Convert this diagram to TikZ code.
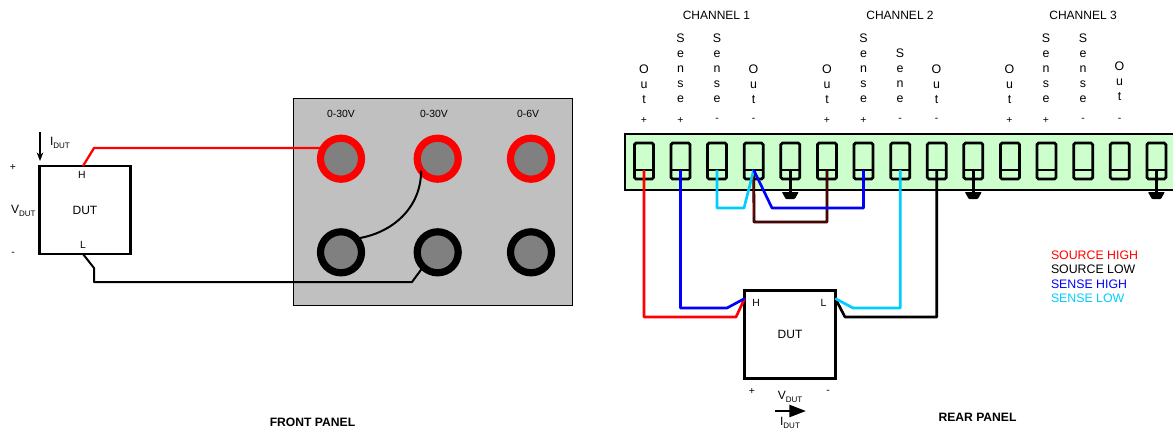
\documentclass[tikz,border=0pt]{standalone}
\usepackage{fontspec}
\setmainfont{Liberation Sans}
\usepackage{xcolor}
\usetikzlibrary{arrows.meta,calc,positioning}
\definecolor{panelgray}{HTML}{C0C0C0}
\definecolor{postgray}{HTML}{808080}
\definecolor{stripgreen}{HTML}{CCFFCC}
\definecolor{senselow}{HTML}{00CCFF}
\definecolor{linkbrown}{HTML}{800000}
\newcommand{\subdut}{\raisebox{-2.4pt}{\fontsize{6}{6}\selectfont DUT}}

\begin{document}
\begin{tikzpicture}[x=0.75pt,y=-0.75pt]
        \tikzstyle{every node}+=[inner sep=0pt,outer sep=0pt,font=\fontsize{9}{11.25}\selectfont]
        \tikzstyle{dutbox}=[draw=black,line width=2.1pt,minimum width=68pt,minimum height=66pt]
        \tikzstyle{hipost}=[circle,draw=red,fill=postgray,line width=5.4pt,minimum size=30.75pt]
        \tikzstyle{lopost}=[circle,draw=black,fill=postgray,line width=5.4pt,minimum size=30.75pt]
        \tikzstyle{termbox}=[draw=black,line width=2pt,rounded corners=1.2pt,minimum width=14.25pt,minimum height=27pt,
                path picture={\draw [line width=1.5pt] ([yshift=-6.75pt]path picture bounding box.west) -- ([yshift=-6.75pt]path picture bounding box.east);}]
        \tikzstyle{stack}=[align=center,anchor=south,font=\fontsize{9.3}{11.25}\selectfont]
        \tikzstyle{small}=[font=\fontsize{7.8}{9}\selectfont]
        \tikzstyle{legend}=[anchor=west,font=\fontsize{9.25}{11}\selectfont]
        \tikzstyle{title}=[font=\fontsize{9.1}{10}\bfseries\selectfont]
        \tikzstyle{wire}=[line width=2pt,line join=round]
        \tikzstyle{gndfill}=[fill=black,rounded corners=0.6pt]
        \useasboundingbox (0,0) rectangle (1173,430);
        \node [small] (plus1) at (13,167) {+};
        \node [small] (minus1) at (13,254) {-};
        \node (vdut1) at (23.3,211) {V\subdut};
        \node (idut1) at (60,143) {I\subdut};
        \node [dutbox] (dut1) at (85,210) {DUT};
        \node [small] (h1) at (82,174.5) {H};
        \node [small] (l1) at (83,245) {L};
        \coordinate (itop1) at (40,132);
        \coordinate (ibot1) at (40,161);
        \draw [black,line width=0.8pt,-{Stealth[length=6.5pt,width=5pt]}] (itop1) -- (ibot1);
        \draw [black,line width=0.7pt,fill=panelgray] (293.5,98.5) rectangle (572,305);
        \node [small] (r1) at (341,114) {0-30V};
        \node [small] (r2) at (434,114) {0-30V};
        \node [small] (r3) at (528,114) {0-6V};
        \node [hipost] (hi1) at (341,158.7) {};
        \node [hipost] (hi2) at (437.7,158.7) {};
        \node [hipost] (hi3) at (531,158.7) {};
        \node [lopost] (lo1) at (341,252.3) {};
        \node [lopost] (lo2) at (437.7,252.3) {};
        \node [lopost] (lo3) at (531,252.3) {};
        \coordinate (redkink) at (94,148);
        \coordinate (blk1) at (94,268);
        \coordinate (blk2) at (94,282);
        \coordinate (blk3) at (412,282);
        \draw [red,line width=1.7pt] ([xshift=-1.5pt]dut1.north) -- (redkink) -- (redkink -| hi1.148);
        \draw [black,line width=1.5pt,line join=round] ([xshift=-1.5pt]dut1.south) -- (blk1) -- (blk2) -- (blk3) -- (lo2.225);
        \draw [black,line width=1.5pt] (hi2.216) to [out=-90,in=8] (lo1.42);
        \node [title] (front) at (312.5,422) {FRONT PANEL};
        \node (ch1) at (716.5,15) {CHANNEL 1};
        \node (ch2) at (900,15) {CHANNEL 2};
        \node (ch3) at (1083,15) {CHANNEL 3};
        \node [stack] (s1) at (644,104) {O\\u\\t};
        \node [stack] (s2) at (680.5,102.5) {S\\e\\n\\s\\e};
        \node [stack] (s3) at (717,102.5) {S\\e\\n\\s\\e};
        \node [stack] (s4) at (753.5,104) {O\\u\\t};
        \node [stack] (s5) at (827,104) {O\\u\\t};
        \node [stack] (s6) at (863.5,102.5) {S\\e\\n\\s\\e};
        \node [stack] (s7) at (900,102.5) {S\\e\\n\\e};
        \node [stack] (s8) at (936.5,104) {O\\u\\t};
        \node [stack] (s9) at (1009.5,104) {O\\u\\t};
        \node [stack] (s10) at (1046,102.5) {S\\e\\n\\s\\e};
        \node [stack] (s11) at (1083,102.5) {S\\e\\n\\s\\e};
        \node [stack] (s12) at (1119.5,101) {O\\u\\t};
        \node [small] (p1) at (644,120) {+};
        \node [small] (p2) at (680.5,120) {+};
        \node [small] (p3) at (717,120) {-};
        \node [small] (p4) at (753.5,120) {-};
        \node [small] (p5) at (827,120) {+};
        \node [small] (p6) at (863.5,120) {+};
        \node [small] (p7) at (900,120) {-};
        \node [small] (p8) at (936.5,120) {-};
        \node [small] (p9) at (1009.5,120) {+};
        \node [small] (p10) at (1046,120) {+};
        \node [small] (p11) at (1083,120) {-};
        \node [small] (p12) at (1119.5,120) {-};
        \fill [stripgreen] (625,134) rectangle (1173,190);
        \draw [black,line width=2.2pt] (1173,134) -- (625,134) -- (625,190) -- (1173,190);
        \coordinate (tapline) at (0,170);
        \node [termbox] (pin1) at (644,161) {};
        \node [termbox] (pin2) at (680.5,161) {};
        \node [termbox] (pin3) at (717,161) {};
        \node [termbox] (pin4) at (753.7,161) {};
        \node [termbox] (pin5) at (790.3,161) {};
        \node [termbox] (pin6) at (827,161) {};
        \node [termbox] (pin7) at (863.5,161) {};
        \node [termbox] (pin8) at (900.2,161) {};
        \node [termbox] (pin9) at (936.8,161) {};
        \node [termbox] (pin10) at (973.3,161) {};
        \node [termbox] (pin11) at (1010,161) {};
        \node [termbox] (pin12) at (1046.5,161) {};
        \node [termbox] (pin13) at (1083.2,161) {};
        \node [termbox] (pin14) at (1119.8,161) {};
        \node [termbox] (pin15) at (1156.4,161) {};
        \coordinate (gnd1) at (790.3,192);
        \coordinate (gnd2) at (973.3,192);
        \coordinate (gnd3) at (1156.4,192);
        \draw [wire,black] (pin5 |- tapline) -- (gnd1);
        \draw [wire,black] (pin10 |- tapline) -- (gnd2);
        \draw [wire,black] (pin15 |- tapline) -- (gnd3);
        \fill [gndfill] ($(gnd1)+(-8.5,0)$) -- ++(17,0) -- ++(-4,7) -- ++(-9,0) -- cycle;
        \fill [gndfill] ($(gnd2)+(-8.5,0)$) -- ++(17,0) -- ++(-4,7) -- ++(-9,0) -- cycle;
        \fill [gndfill] ($(gnd3)+(-8.5,0)$) -- ++(17,0) -- ++(-4,7) -- ++(-9,0) -- cycle;
        \node [dutbox] (dut2) at (790,334.5) {DUT};
        \node [small] (h2) at (756,303) {H};
        \node [small] (l2) at (823.5,303) {L};
        \node [small] (plus2) at (752,391) {+};
        \node [small] (minus2) at (828,392) {-};
        \node (vdut2) at (790,397) {V\subdut};
        \node (idut2) at (790,423) {I\subdut};
        \coordinate (arrow1) at (775,411);
        \coordinate (arrow2) at (806,411);
        \draw [black,line width=1.9pt,-{Stealth[length=12.5pt,width=9pt,inset=0pt]}] (arrow1) -- (arrow2);
        \coordinate (brownb1) at (754,222);
        \coordinate (brownb2) at (827,222);
        \coordinate (ltb1) at (717,208);
        \coordinate (ltb2) at (744,208);
        \coordinate (blb1) at (772,208);
        \coordinate (blb2) at (863.5,208);
        \coordinate (redb1) at (644,317);
        \coordinate (redb2) at (736,317);
        \coordinate (senb1) at (680.5,308);
        \coordinate (senb2) at (727,308);
        \coordinate (lowb1) at (853,308);
        \coordinate (lowb2) at (900.2,308);
        \coordinate (srcb1) at (845,317);
        \coordinate (srcb2) at (936.8,317);
        \draw [line width=0.5pt,draw=black,double=linkbrown,double distance=1.1pt,line join=round] (pin4 |- tapline) -- (brownb1) -- (brownb2) -- (pin6 |- tapline);
        \draw [wire,senselow] (pin3 |- tapline) -- (ltb1) -- (ltb2) -- (pin4 |- tapline);
        \draw [wire,blue] (pin4 |- tapline) -- (blb1) -- (blb2) -- (pin7 |- tapline);
        \draw [wire,red] (pin1 |- tapline) -- (redb1) -- (redb2) -- ([yshift=-6pt]dut2.north west);
        \draw [wire,blue] (pin2 |- tapline) -- (senb1) -- (senb2) -- ([yshift=-6pt]dut2.north west);
        \draw [wire,black] (pin9 |- tapline) -- (srcb2) -- (srcb1) -- ([yshift=-6pt]dut2.north east);
        \draw [wire,senselow] (pin8 |- tapline) -- (lowb2) -- (lowb1) -- ([yshift=-6pt]dut2.north east);
        \node [legend,red] (leg1) at (1051,255) {SOURCE HIGH};
        \node [legend,black] (leg2) at (1051,269.5) {SOURCE LOW};
        \node [legend,blue] (leg3) at (1051,284) {SENSE HIGH};
        \node [legend,senselow] (leg4) at (1051,298.5) {SENSE LOW};
        \node [title] (rear) at (977.5,417) {REAR PANEL};
        \end{tikzpicture}
\end{document}
